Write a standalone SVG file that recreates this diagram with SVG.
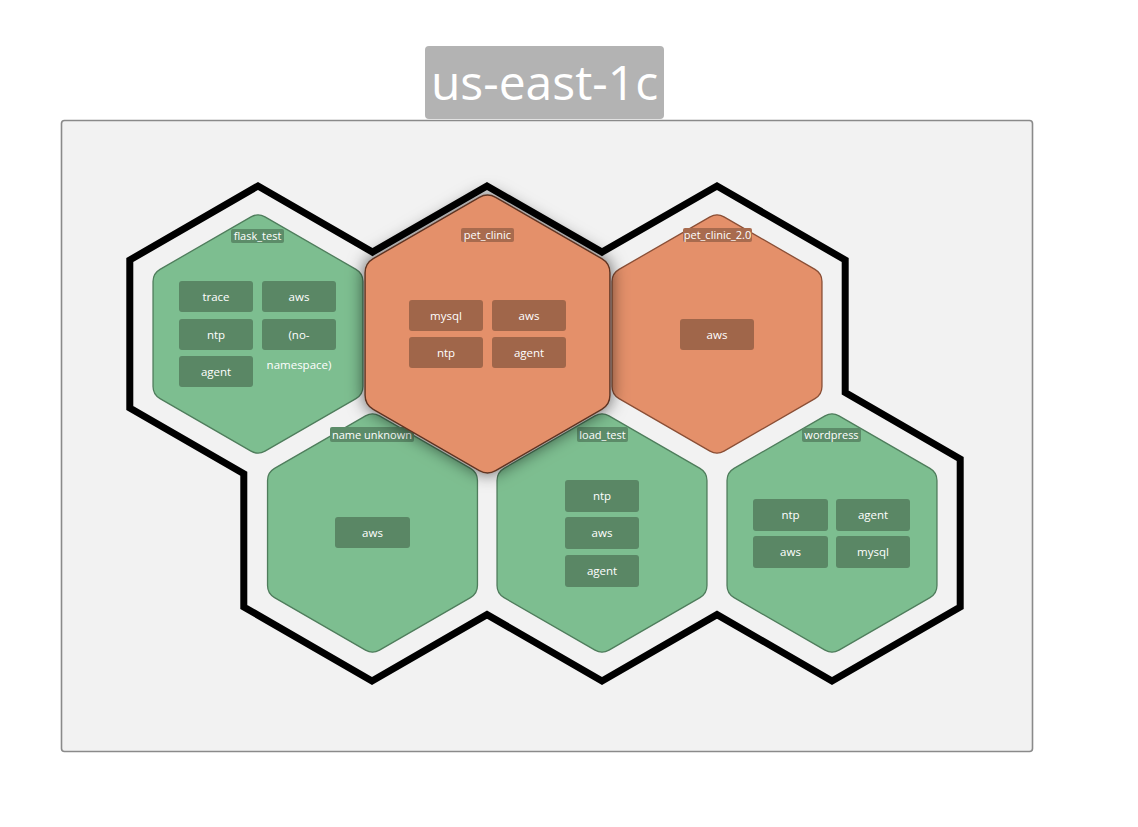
<svg xmlns="http://www.w3.org/2000/svg" xmlns:xlink="http://www.w3.org/1999/xlink" width="1138" height="827" viewBox="0 0 1138 827">
<style>
  .zone { fill: #f2f2f2; stroke: #8a8a8a; stroke-width: 1.6; }
  .title-bg { fill: #b3b3b3; }
  .title { font-family: "Open Sans", "Liberation Sans", sans-serif; font-size: 48px; fill: #ffffff; text-anchor: middle; }
  .outline { fill: none; stroke: #000000; stroke-width: 7; stroke-linejoin: miter; }
  .hex-green { fill: #7dbe90; stroke: #4f7d5c; stroke-width: 1.3; }
  .hex-orange { fill: #e4906a; stroke: #8a4f36; stroke-width: 1.3; }
  .box-green { fill: #5a8765; }
  .box-orange { fill: #a0664a; }
  .lbl-green { fill: #5c8c69; }
  .lbl-orange { fill: #a86b4e; }
  .t { font-family: "Open Sans", "Liberation Sans", sans-serif; font-size: 11.5px; fill: #ffffff; text-anchor: middle; }
  .l { font-family: "Open Sans", "Liberation Sans", sans-serif; font-size: 11px; fill: #ffffff; text-anchor: middle; }
</style>
<defs>
  <path id="hex" d="M6.93,-116 L96.99,-64 Q103.92,-60 103.92,-52 L103.92,52 Q103.92,60 96.99,64 L6.93,116 Q0,120 -6.93,116 L-96.99,64 Q-103.92,60 -103.92,52 L-103.92,-52 Q-103.92,-60 -96.99,-64 L-6.93,-116 Q0,-120 6.93,-116 Z"/>
  <filter id="shadow" x="-30%" y="-30%" width="160%" height="160%">
    <feDropShadow dx="0" dy="0" stdDeviation="7" flood-color="#000000" flood-opacity="0.65"/>
  </filter>
</defs>
<rect x="0" y="0" width="1138" height="827" fill="#ffffff"/>
<g id="zone-us-east-1c">
  <rect class="zone" x="61.5" y="120.5" width="971" height="631" rx="3"/>
  <rect class="title-bg" x="425" y="46" width="239" height="73" rx="4"/>
  <text class="title" x="544.5" y="100">us-east-1c</text>
</g>
<g id="cluster-outline">
  <path class="outline" d="M258,186 L372.5,252.1 L487,186 L602,252.1 L717,186 L845.2,260 L845.2,392.6 L960.2,459 L960.2,607 L832,681 L717,614.6 L602,681 L487,614.6 L372,681 L243.8,607 L243.8,473.8 L129.8,408 L129.8,260 Z"/>
</g>
<g id="node-flask_test">
  <use xlink:href="#hex" href="#hex" class="hex-green" transform="translate(258,334) scale(1.01)"/>
  <rect class="lbl-green" x="231" y="229" width="53" height="14" rx="2"/>
  <text class="l" x="257.5" y="240">flask_test</text>
  <rect class="box-green" x="179" y="281" width="74" height="31" rx="3"/>
  <text class="t" x="216" y="300.5">trace</text>
  <rect class="box-green" x="262" y="281" width="74" height="31" rx="3"/>
  <text class="t" x="299" y="300.5">aws</text>
  <rect class="box-green" x="179" y="319" width="74" height="31" rx="3"/>
  <text class="t" x="216" y="338.5">ntp</text>
  <rect class="box-green" x="262" y="319" width="74" height="31" rx="3"/>
  <text class="t" x="299" y="338.5">(no-</text>
  <text class="t" x="299" y="369">namespace)</text>
  <rect class="box-green" x="179" y="356" width="74" height="31" rx="3"/>
  <text class="t" x="216" y="375.5">agent</text>
</g>
<g id="node-pet_clinic_2.0">
  <use xlink:href="#hex" href="#hex" class="hex-orange" transform="translate(717,334) scale(1.01)"/>
  <rect class="lbl-orange" x="683" y="228" width="69" height="14" rx="2"/>
  <text class="l" x="717.5" y="239">pet_clinic_2.0</text>
  <rect class="box-orange" x="680" y="319" width="74" height="31" rx="3"/>
  <text class="t" x="717" y="338.5">aws</text>
</g>
<g id="node-name_unknown">
  <use xlink:href="#hex" href="#hex" class="hex-green" transform="translate(372.5,533) scale(1.01)"/>
  <rect class="lbl-green" x="330" y="427" width="84" height="15" rx="2"/>
  <text class="l" x="372" y="438.5">name unknown</text>
  <rect class="box-green" x="335" y="517" width="75" height="31" rx="3"/>
  <text class="t" x="372.5" y="536.5">aws</text>
</g>
<g id="node-load_test">
  <use xlink:href="#hex" href="#hex" class="hex-green" transform="translate(602,533) scale(1.01)"/>
  <rect class="lbl-green" x="577" y="427" width="51" height="15" rx="2"/>
  <text class="l" x="602.5" y="438.5">load_test</text>
  <rect class="box-green" x="565" y="480" width="74" height="32" rx="3"/>
  <text class="t" x="602" y="500">ntp</text>
  <rect class="box-green" x="565" y="517" width="74" height="32" rx="3"/>
  <text class="t" x="602" y="537">aws</text>
  <rect class="box-green" x="565" y="555" width="74" height="32" rx="3"/>
  <text class="t" x="602" y="575">agent</text>
</g>
<g id="node-wordpress">
  <use xlink:href="#hex" href="#hex" class="hex-green" transform="translate(832,533) scale(1.01)"/>
  <rect class="lbl-green" x="802" y="428" width="59" height="14" rx="2"/>
  <text class="l" x="831.5" y="439">wordpress</text>
  <rect class="box-green" x="753" y="499" width="75" height="32" rx="3"/>
  <text class="t" x="790.5" y="519">ntp</text>
  <rect class="box-green" x="836" y="499" width="74" height="32" rx="3"/>
  <text class="t" x="873" y="519">agent</text>
  <rect class="box-green" x="753" y="536" width="75" height="32" rx="3"/>
  <text class="t" x="790.5" y="556">aws</text>
  <rect class="box-green" x="836" y="536" width="74" height="32" rx="3"/>
  <text class="t" x="873" y="556">mysql</text>
</g>
<g id="node-pet_clinic">
  <use xlink:href="#hex" href="#hex" class="hex-orange" filter="url(#shadow)" transform="translate(487.5,334) scale(1.178)" style="stroke:#5e3422;stroke-width:1.2"/>
  <rect class="lbl-orange" x="461" y="228" width="53" height="14" rx="2"/>
  <text class="l" x="487.5" y="239">pet_clinic</text>
  <rect class="box-orange" x="409" y="300" width="74" height="31" rx="3"/>
  <text class="t" x="446" y="319.5">mysql</text>
  <rect class="box-orange" x="492" y="300" width="74" height="31" rx="3"/>
  <text class="t" x="529" y="319.5">aws</text>
  <rect class="box-orange" x="409" y="337" width="74" height="31" rx="3"/>
  <text class="t" x="446" y="356.5">ntp</text>
  <rect class="box-orange" x="492" y="337" width="74" height="31" rx="3"/>
  <text class="t" x="529" y="356.5">agent</text>
</g>
</svg>
